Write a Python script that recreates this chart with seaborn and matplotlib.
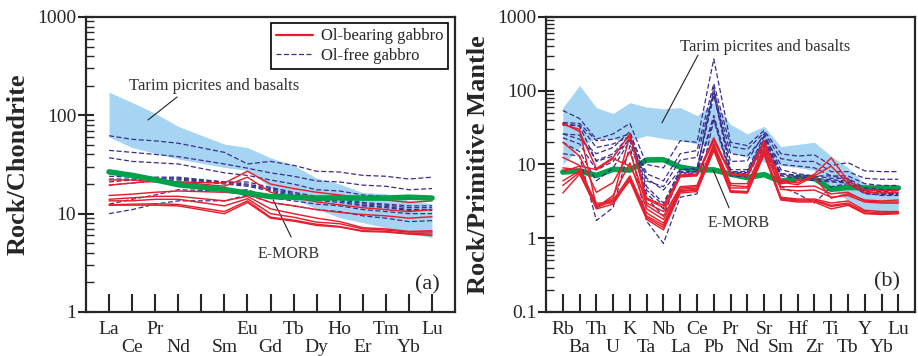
"""
Chondrite- and primitive-mantle-normalised spider diagrams (gabbros vs Tarim field)
"""

import numpy as np
import pandas as pd
import matplotlib
matplotlib.use('Agg')
import matplotlib.pyplot as plt
from matplotlib.lines import Line2D
from matplotlib.ticker import FixedLocator, LogLocator, NullFormatter
import seaborn as sns

# ---------------------------------------------------------------- data
# (a) REE, chondrite normalised; '' marks the Pm slot (tick only)
ree_labels = ['La', 'Ce', 'Pr', 'Nd', '', 'Sm', 'Eu', 'Gd', 'Tb', 'Dy', 'Ho', 'Er', 'Tm', 'Yb', 'Lu']

ree_ol_bearing = [
    [22, 22, 21, 21, 20.5, 27, 20, 18, 16.5, 15.5, 14.5, 13.8, 13, 13.5],
    [19.5, 20.5, 21.5, 21, 19, 23.5, 16.5, 14.5, 13.2, 12.3, 11.5, 11, 10.5, 11],
    [15.3, 15.8, 16.5, 17, 16.5, 15.8, 13, 12, 11, 10.3, 9.8, 9.5, 9, 9.3],
    [14, 14.5, 15, 15, 13.5, 15, 11.2, 10, 9, 8.3, 7.2, 7, 6.6, 6.7],
    [13.5, 13.5, 14, 14, 12, 14.2, 10, 9.2, 8.2, 7.9, 7, 6.8, 6.5, 6.5],
    [12.3, 12.5, 12.6, 12.4, 10.5, 13.5, 9.2, 8.6, 7.8, 7.4, 6.7, 6.6, 6.3, 6.2],
    [12.2, 12.2, 12.2, 12.0, 10, 13, 9.0, 8.4, 7.6, 7.3, 6.6, 6.5, 6.2, 6.0],
]
ree_ol_free = [
    [62, 57, 55, 52, 42, 32, 34, 31, 27, 26.5, 24.5, 24, 22.5, 23.5],
    [44, 42, 40, 38, 32, 29, 26, 24, 21.5, 21, 19.5, 19, 17.5, 18],
    [37, 34, 33, 32, 26, 24.5, 22, 20, 17.5, 17, 15.5, 15, 14, 14.5],
    [24, 23.5, 23.5, 23.5, 21, 21, 18.5, 16.5, 15, 14.5, 13, 12.5, 12, 12],
    [22.5, 22.5, 23, 23, 21, 20, 18, 16, 14.5, 14, 12.6, 12.2, 11.5, 11.5],
    [21, 22, 22.5, 22.5, 20.5, 19.5, 17.5, 15.5, 14, 13.5, 12.2, 11.8, 11, 11],
    [19.5, 20.5, 21.5, 22, 20, 19, 17, 15, 13.7, 13, 12, 11.5, 10.8, 10.8],
    [12.5, 14, 15.5, 17.5, 17, 17.5, 14.5, 13.5, 12.5, 12, 11, 10.5, 10, 10],
    [10, 11, 12.5, 13.5, 13.5, 15.5, 13, 12, 11, 10.5, 9.5, 9, 8.3, 8.5],
]
ree_emorb = [26.6, 24.5, 22.1, 19.7, 17.6, 16.2, 14.9, 14.7, 14.4, 14.5, 14.4, 14.4, 14.7, 14.4]
ree_tarim_hi = [172, 135, 105, 77, 51, 47, 37, 31, 23, 20, 16.4, 16, 13.6, 12.6]
ree_tarim_lo = [60, 47, 41, 36, 29.5, 27.5, 18.4, 14.2, 11.2, 9.1, 8.1, 7.2, 6.4, 5.7]

# (b) trace elements, primitive mantle normalised
pm_labels = ['Rb', 'Ba', 'Th', 'U', 'K', 'Ta', 'Nb', 'La', 'Ce', 'Pb', 'Pr',
             'Nd', 'Sr', 'Sm', 'Hf', 'Zr', 'Ti', 'Tb', 'Y', 'Yb', 'Lu']

pm_ol_bearing = [
    [36, 28, 8.8, 12.5, 26, 3.4, 2.6, 7.2, 7.4, 22, 7.6, 7.2, 20, 6.2, 5.6, 7.4, 12.3, 6.0, 4.5, 4.4, 4.5],
    [35, 30, 2.7, 3.5, 25, 3.0, 2.3, 6.8, 7.0, 21, 7.3, 7.0, 19, 5.8, 5.3, 7.0, 9.5, 5.5, 4.2, 4.1, 4.2],
    [20, 13, 4.2, 5.7, 15, 2.8, 2.0, 5.0, 5.2, 19, 5.5, 5.5, 17, 5.0, 5.0, 5.1, 4.0, 4.2, 3.2, 3.1, 3.1],
    [12.5, 9.7, 2.6, 3.8, 10.5, 2.5, 1.8, 4.8, 5.0, 18, 5.2, 5.0, 16, 4.6, 4.4, 4.5, 3.6, 3.8, 3.1, 3.0, 3.0],
    [9, 8.5, 2.8, 3.3, 7, 2.2, 1.6, 4.6, 4.8, 17, 4.8, 4.8, 15, 3.6, 3.4, 3.4, 3.0, 3.2, 2.4, 2.3, 2.3],
    [6, 8.2, 3.0, 3.0, 6.7, 2.0, 1.5, 4.4, 4.6, 16.5, 4.4, 4.3, 14.5, 3.5, 3.3, 3.3, 2.8, 3.0, 2.3, 2.2, 2.25],
    [5.2, 7.8, 2.5, 2.9, 6.3, 1.9, 1.4, 4.3, 4.5, 16, 4.3, 4.2, 14, 3.4, 3.2, 3.2, 2.7, 2.9, 2.2, 2.15, 2.2],
    [4.1, 7.4, 2.6, 3.2, 6.0, 1.8, 1.3, 4.1, 4.3, 15.5, 4.2, 4.1, 13.5, 3.3, 3.1, 3.1, 2.5, 2.8, 2.15, 2.1, 2.15],
    [8, 9.5, 8.5, 12, 9.5, 3.5, 2.8, 7.0, 7.2, 23, 7.5, 7.0, 21, 5.5, 6.0, 6.8, 3.5, 4.0, 3.3, 3.2, 3.3],
]
pm_ol_free = [
    [54, 42, 22, 26, 36, 10, 9, 21, 20, 270, 20, 18, 29, 14, 13, 13.5, 9.7, 10.6, 8.2, 8, 8],
    [37, 36, 21, 22, 26, 7.5, 6, 14, 15.5, 125, 17.5, 16, 27, 12, 11, 11, 8, 8, 6.5, 6.3, 6.3],
    [34, 34, 17, 19, 24, 6, 5, 11.5, 12.5, 100, 14, 13, 24, 10, 9.5, 9, 7, 7, 5.5, 5.2, 5.2],
    [26, 25, 11.3, 14, 25, 5, 3.0, 8.5, 8.5, 92, 8, 8, 22, 7.5, 7, 6.5, 6.2, 6, 4.5, 4.3, 4.2],
    [23, 19, 8.4, 11, 23, 4.5, 2.8, 8, 8, 46, 7.8, 7.8, 21, 7.2, 6.8, 6.3, 6, 5.8, 4.2, 4.1, 4.0],
    [20, 15, 6, 9, 21, 4, 2.5, 7.8, 7.5, 42, 7.5, 7.5, 19, 7, 6.5, 6, 5.8, 5.6, 4, 3.9, 3.9],
    [14, 13, 1.74, 2.6, 18, 1.7, 0.85, 3.6, 4.0, 40, 7.0, 6.8, 18, 5, 4, 3.0, 5, 5.5, 4.1, 3.8, 3.8],
    [26, 22, 14, 17, 28, 6.5, 4.5, 8.5, 9, 85, 11, 11.2, 26, 8.5, 7.5, 7, 6.5, 6.5, 4.8, 4.6, 4.5],
    [36, 33, 11, 13, 22, 3.5, 2.0, 7.5, 8, 110, 8.5, 8.5, 24, 7.5, 7.2, 7.0, 7, 6.4, 4.3, 4.1, 4.0],
]
pm_emorb = [7.9, 8.2, 7.1, 8.6, 8.4, 11.5, 11.6, 9.2, 8.45, 8.45, 7.4, 6.65, 7.3, 5.9, 6.6, 6.5, 4.6, 4.9, 4.8, 4.8, 4.8]
pm_tarim_hi = [59, 118, 59, 49, 69, 60, 57, 59, 46, 70, 35, 26, 33, 17.5, 18.7, 20, 13, 9.1, 5.5, 5, 4.9]
pm_tarim_lo = [10, 17, 23, 22, 21, 24.7, 22.5, 21, 19, 18, 14.5, 12.5, 10.7, 9.7, 9.1, 8.3, 4.9, 3.2, 2.5, 2.2, 2.2]

# ---------------------------------------------------------------- style
RED = '#e5202e'
BLUE = '#3a2d8c'
GREEN = '#00a14b'
FIELD = '#a6d5f3'

sns.set_style('ticks')
plt.rcParams['font.family'] = ['Liberation Serif', 'DejaVu Serif']
plt.rcParams['axes.linewidth'] = 1.6


def to_long(rows, xs):
    recs = []
    for i, row in enumerate(rows):
        for x, v in zip(xs, row):
            recs.append({'sample': i, 'x': x, 'value': v})
    return pd.DataFrame(recs)


def spider(ax, labels, bearing, free, emorb, hi, lo, ymin, green_on_top):
    xs = [i for i, lab in enumerate(labels) if lab]
    ax.set_yscale('log')

    ax.fill_between(xs, lo, hi, color=FIELD, lw=0, zorder=1)

    z_green = 5 if green_on_top else 2
    sns.lineplot(data=pd.DataFrame({'x': xs, 'value': emorb}), x='x', y='value',
                 color=GREEN, lw=4, ax=ax, zorder=z_green, legend=False)
    sns.lineplot(data=to_long(free, xs), x='x', y='value', units='sample', estimator=None,
                 color=BLUE, lw=0.9, ax=ax, zorder=3, legend=False, linestyle=(0, (4, 2)))
    sns.lineplot(data=to_long(bearing, xs), x='x', y='value', units='sample', estimator=None,
                 color=RED, lw=1.05, ax=ax, zorder=4, legend=False)

    ax.set_xlim(-1, len(labels))
    ax.set_ylim(ymin, 1000)
    ax.set_xlabel('')

    # element names on two staggered rows
    ax.set_xticks(range(len(labels)))
    ax.set_xticklabels([])
    for i, lab in enumerate(labels):
        ax.text(i, -0.06 if i % 2 == 0 else -0.12, lab, transform=ax.get_xaxis_transform(),
                ha='center', va='center', fontsize=14)

    decades = [10.0 ** k for k in range(int(np.log10(ymin)), 4)]
    ax.yaxis.set_major_locator(FixedLocator(decades))
    ax.set_yticklabels([f'{d:g}' for d in decades], fontsize=14)
    ax.yaxis.set_minor_locator(LogLocator(base=10, subs=np.arange(2, 10)))
    ax.yaxis.set_minor_formatter(NullFormatter())
    ax.tick_params(axis='y', which='major', direction='inout', length=12, width=1.5, pad=1)
    ax.tick_params(axis='y', which='minor', direction='in', length=6, width=1.0)
    ax.tick_params(axis='x', which='major', direction='in', length=13, width=1.5)
    for s in ax.spines.values():
        s.set_visible(True)


fig = plt.figure(figsize=(9.18, 3.56), dpi=100)
ax1 = fig.add_axes([0.0937, 0.1236, 0.402, 0.8287])
ax2 = fig.add_axes([0.5948, 0.1236, 0.402, 0.8287])

spider(ax1, ree_labels, ree_ol_bearing, ree_ol_free, ree_emorb, ree_tarim_hi, ree_tarim_lo, 1, True)
spider(ax2, pm_labels, pm_ol_bearing, pm_ol_free, pm_emorb, pm_tarim_hi, pm_tarim_lo, 0.1, False)

for ax, lab in [(ax1, 'Rock/Chondrite'), (ax2, 'Rock/Primitive Mantle')]:
    ax.set_ylabel(lab, fontsize=19, fontweight='bold')
    ax.yaxis.set_label_coords(-0.152, 0.5)

# annotations
line_kw = dict(arrowprops=dict(arrowstyle='-', color='#222222', lw=0.8, shrinkA=0, shrinkB=0),
               xycoords='axes fraction', textcoords='axes fraction')
ax1.text(0.346, 0.766, 'Tarim picrites and basalts', transform=ax1.transAxes,
         ha='center', va='center', fontsize=12, color='#333333')
ax1.annotate('', xy=(0.168, 0.651), xytext=(0.247, 0.729), **line_kw)
ax1.text(0.549, 0.197, 'E-MORB', transform=ax1.transAxes, ha='center', va='center',
         fontsize=11.5, color='#333333')
ax1.annotate('', xy=(0.507, 0.380), xytext=(0.556, 0.254), **line_kw)
ax1.text(0.924, 0.092, '(a)', transform=ax1.transAxes, ha='center', va='center', fontsize=16)

ax2.text(0.593, 0.898, 'Tarim picrites and basalts', transform=ax2.transAxes,
         ha='center', va='center', fontsize=12, color='#333333')
ax2.annotate('', xy=(0.314, 0.641), xytext=(0.412, 0.871), **line_kw)
ax2.text(0.522, 0.302, 'E-MORB', transform=ax2.transAxes, ha='center', va='center',
         fontsize=11.5, color='#333333')
ax2.annotate('', xy=(0.453, 0.481), xytext=(0.496, 0.353), **line_kw)
ax2.text(0.924, 0.102, '(b)', transform=ax2.transAxes, ha='center', va='center', fontsize=16)

handles = [Line2D([], [], color=RED, lw=1.6),
           Line2D([], [], color=BLUE, lw=0.9, linestyle=(0, (4, 2)))]
leg = ax1.legend(handles, ['Ol-bearing gabbro', 'Ol-free gabbro'], loc='upper right',
                 bbox_to_anchor=(0.982, 0.978), borderaxespad=0, fontsize=12,
                 fancybox=False, framealpha=1, edgecolor='black', handlelength=2.2,
                 borderpad=0.3, labelspacing=0.2, handletextpad=0.5)
leg.get_frame().set_linewidth(1.2)

fig.savefig('out.png', dpi=100)
